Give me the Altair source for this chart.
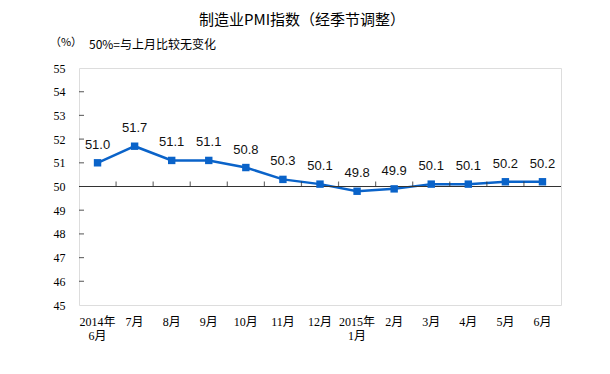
import json
import altair as alt
import pandas as pd

# ---- data ----
month_labels = [["2014年", "6月"], ["7月"], ["8月"], ["9月"], ["10月"], ["11月"], ["12月"],
                ["2015年", "1月"], ["2月"], ["3月"], ["4月"], ["5月"], ["6月"]]
pmi_values = [51.0, 51.7, 51.1, 51.1, 50.8, 50.3, 50.1, 49.8, 49.9, 50.1, 50.1, 50.2, 50.2]
y_ticks = [45, 46, 47, 48, 49, 50, 51, 52, 53, 54, 55]
baseline = 50
title_text = "制造业PMI指数（经季节调整）"
unit_text = "（%）"
note_text = "50%=与上月比较无变化"

LINE_COLOR = "#0A63C9"
FRAME = "#333333"
SERIF = "Liberation Serif, Noto Sans CJK SC"
SANS = "Liberation Sans, Noto Sans CJK SC"

n = len(pmi_values)
df = pd.DataFrame({"idx": list(range(n)), "pmi": pmi_values})
bound_df = pd.DataFrame({"idx": list(range(1, n)), "pmi": [baseline] * (n - 1)})
ytick_df = pd.DataFrame({"pmi": [v for v in y_ticks if v not in (y_ticks[0], y_ticks[-1], baseline)]})
base_df = pd.DataFrame({"pmi": [baseline]})

label_expr = json.dumps(month_labels, ensure_ascii=False) + "[datum.value]"

x_scale = alt.Scale(type="band", paddingInner=0, paddingOuter=0)
y_scale = alt.Scale(domain=[y_ticks[0], y_ticks[-1]], nice=False, zero=False)

x_axis = alt.Axis(labelExpr=label_expr, labelAngle=0, domain=False, ticks=False,
                  grid=False, labelPadding=11, labelFont=SERIF, labelFontSize=12,
                  labelColor="#000000", labelLineHeight=14, labelBaseline="top",
                  labelOverlap=False)
y_axis = alt.Axis(values=y_ticks, domain=False, ticks=False, grid=False,
                  labelPadding=14, labelFont=SERIF, labelFontSize=12,
                  labelColor="#000000", labelOverlap=False, labelFlush=False)


def X(**kw):
    return alt.X("idx:O", scale=x_scale, title=None, axis=x_axis, **kw)


def Y():
    return alt.Y("pmi:Q", scale=y_scale, title=None, axis=y_axis)


line = alt.Chart(df).mark_line(color=LINE_COLOR, strokeWidth=2.5).encode(x=X(), y=Y())
pts = alt.Chart(df).mark_square(color=LINE_COLOR, size=55, opacity=1).encode(x=X(), y=Y())
labels = alt.Chart(df).mark_text(font=SANS, fontSize=13, color="#111111",
                                 baseline="alphabetic", dy=-14).encode(
    x=X(), y=Y(), text=alt.Text("pmi:Q", format=".1f"))

base_rule = alt.Chart(base_df).mark_rule(color=FRAME, strokeWidth=1.2).encode(y=Y())
bound_ticks = alt.Chart(bound_df).mark_tick(orient="vertical", size=5, thickness=1.2,
                                            color=FRAME, yOffset=-2.5).encode(
    x=X(bandPosition=0), y=Y())
y_inner_ticks = alt.Chart(ytick_df).mark_tick(orient="horizontal", size=5, thickness=1.2,
                                              color=FRAME).encode(
    y=Y(), x=alt.value(2.5))

title = alt.Chart(base_df).mark_text(text=title_text, font="Noto Sans CJK SC", fontSize=15,
                                     color="#000000", align="center", baseline="middle").encode(
    x=alt.value(223), y=alt.value(-48))
unit = alt.Chart(base_df).mark_text(text=unit_text, font="Noto Sans CJK SC", fontSize=11,
                                    color="#000000", align="center", baseline="middle").encode(
    x=alt.value(-13), y=alt.value(-25))
note = alt.Chart(base_df).mark_text(text=note_text, font="Noto Sans CJK SC", fontSize=12,
                                    color="#000000", align="left", baseline="middle").encode(
    x=alt.value(10), y=alt.value(-23))

chart = alt.layer(line, base_rule, bound_ticks, y_inner_ticks, pts, labels, title, unit, note).properties(
    width=482, height=237,
    autosize=alt.AutoSizeParams(type="none"),
    padding={"left": 71, "top": 60, "right": 40, "bottom": 60},
).configure_view(stroke=FRAME, strokeWidth=1.2).configure(background="white")

chart.save("out.html", embed_options={"renderer": "svg", "actions": False})
